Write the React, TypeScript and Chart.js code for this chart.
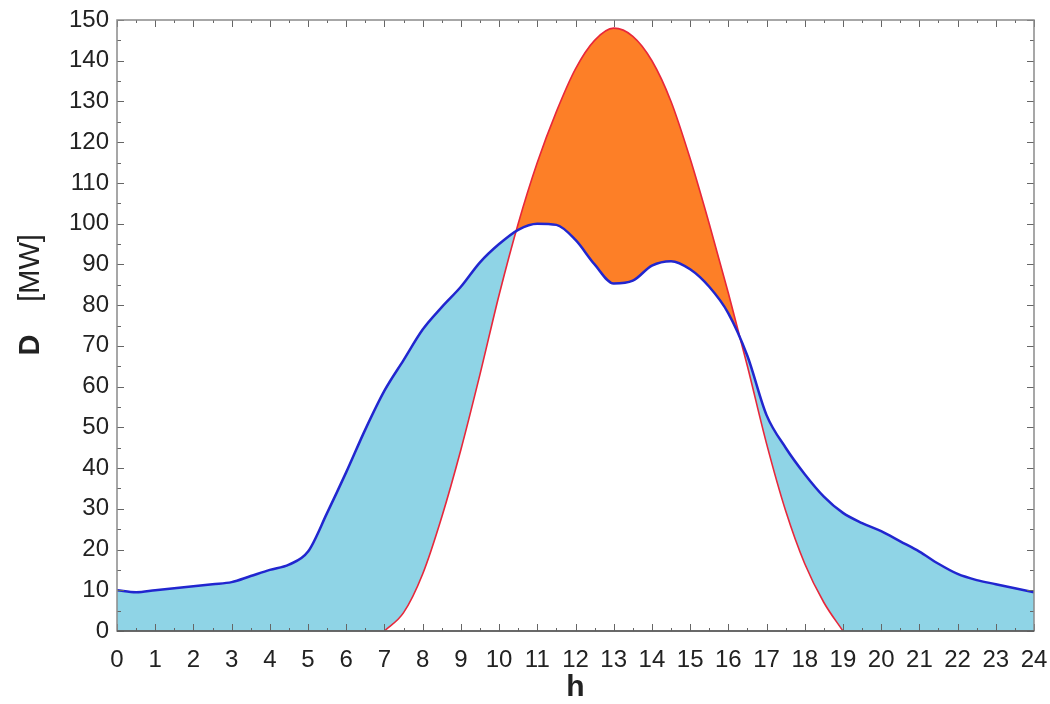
import React, { useEffect, useRef } from "react";
import { Chart, registerables } from "chart.js";

Chart.register(...registerables);

// Hour of day (h) for the demand curve
const demandHours = [
  0, 0.5, 1, 1.5, 2, 2.5, 3, 3.5, 4, 4.5, 5, 5.5, 6, 6.5, 7, 7.5, 8, 8.5, 9, 9.5,
  10, 10.5, 11, 11.5, 12, 12.5, 13, 13.5, 14, 14.5, 15, 15.5, 16, 16.5, 17, 17.5,
  18, 18.5, 19, 19.5, 20, 20.5, 21, 21.5, 22, 22.5, 23, 23.5, 24,
];
// Demand D [MW]
const demandValues = [
  10, 9.5, 10, 10.5, 11, 11.5, 12, 13.5, 15, 16.3, 19.5, 29, 39, 49.5, 59, 66.5,
  74, 79.5, 84.5, 90.5, 95, 98.5, 100, 99.7, 96, 90, 85.3, 86, 89.7, 90.8, 88.8,
  84.5, 78, 67.5, 53, 45, 38.5, 33, 29, 26.5, 24.5, 22, 19.5, 16.5, 14, 12.5,
  11.5, 10.5, 9.5,
];

// Hour of day (h) for the generation curve
const generationHours = [
  7, 7.5, 8, 8.5, 9, 9.5, 10, 10.5, 11, 11.5, 12, 12.5, 13, 13.5, 14, 14.5, 15,
  15.5, 16, 16.5, 17, 17.5, 18, 18.5, 19,
];
// Generation [MW]
const generationValues = [
  0, 4.5, 14, 28, 44.5, 63, 82.5, 100, 115, 127.5, 138, 145, 148, 146, 140, 130,
  116, 100, 83, 65, 46, 29.5, 16.5, 7, 0,
];

const xTickMin = 0;
const xTickMax = 24;
const yTickMin = 0;
const yTickMax = 150;

const FONT = "'Liberation Sans', Arial, sans-serif";

const toPoints = (xs: number[], ys: number[]) =>
  xs.map((x, i) => ({ x, y: ys[i] }));

// Frame around the plot area with inward ticks on all four sides
const frameTicks = {
  id: "frameTicks",
  afterDraw(chart: any) {
    const { ctx, chartArea, scales } = chart;
    const { left, right, top, bottom } = chartArea;
    const xs = scales.x;
    const ys = scales.y;
    ctx.save();
    ctx.strokeStyle = "#666";
    ctx.lineWidth = 1;
    ctx.beginPath();
    for (let h = xTickMin * 2; h <= xTickMax * 2; h++) {
      const v = h / 2;
      const px = Math.round(xs.getPixelForValue(v)) + 0.5;
      const len = h % 2 === 0 ? 7 : 3;
      ctx.moveTo(px, bottom);
      ctx.lineTo(px, bottom - len);
      ctx.moveTo(px, top);
      ctx.lineTo(px, top + len);
    }
    for (let k = yTickMin / 5; k <= yTickMax / 5; k++) {
      const v = k * 5;
      const py = Math.round(ys.getPixelForValue(v)) + 0.5;
      const len = k % 2 === 0 ? 7 : 4;
      ctx.moveTo(left, py);
      ctx.lineTo(left + len, py);
      ctx.moveTo(right, py);
      ctx.lineTo(right - len, py);
    }
    ctx.stroke();

    ctx.strokeStyle = "#8a8a8a";
    ctx.lineWidth = 1.5;
    ctx.strokeRect(left, top, right - left, bottom - top);
    ctx.strokeStyle = "#555";
    ctx.beginPath();
    ctx.moveTo(left, bottom);
    ctx.lineTo(right, bottom);
    ctx.stroke();

    // Y axis title: bold symbol, regular unit
    ctx.fillStyle = "#222";
    ctx.textAlign = "center";
    ctx.textBaseline = "middle";
    ctx.save();
    ctx.translate(31, 345);
    ctx.rotate(-Math.PI / 2);
    ctx.font = `bold 29px ${FONT}`;
    ctx.fillText("D", 0, 0);
    ctx.restore();
    ctx.save();
    ctx.translate(31, 268);
    ctx.rotate(-Math.PI / 2);
    ctx.font = `29px ${FONT}`;
    ctx.fillText("[MW]", 0, 0);
    ctx.restore();
    ctx.restore();
  },
};

export default function App() {
  const canvasRef = useRef<HTMLCanvasElement | null>(null);

  useEffect(() => {
    const canvas = canvasRef.current;
    if (!canvas) return;
    const demand = toPoints(demandHours, demandValues);
    const generation = toPoints(generationHours, generationValues);

    const chart = new Chart(canvas, {
      type: "line",
      data: {
        datasets: [
          {
            label: "Demand area",
            data: demand,
            borderWidth: 0,
            borderColor: "rgba(0,0,0,0)",
            backgroundColor: "#8fd4e6",
            fill: "origin",
            order: 4,
          },
          {
            label: "Generation area",
            data: generation,
            borderWidth: 0,
            borderColor: "rgba(0,0,0,0)",
            backgroundColor: "#ffffff",
            fill: "origin",
            order: 3,
          },
          {
            label: "Generation",
            data: generation,
            borderWidth: 1.6,
            borderColor: "#e8273a",
            backgroundColor: "#fd7f27",
            fill: { target: 0, above: "#fd7f27", below: "rgba(0,0,0,0)" },
            order: 2,
          },
          {
            label: "Demand",
            data: demand,
            borderWidth: 2.5,
            borderColor: "#2126cf",
            fill: false,
            order: 1,
          },
        ],
      },
      options: {
        responsive: false,
        animation: false,
        events: [],
        elements: {
          point: { radius: 0 },
          line: { cubicInterpolationMode: "monotone" },
        },
        layout: { padding: { left: 0, top: 20, right: 16, bottom: 0 } },
        plugins: {
          legend: { display: false },
          tooltip: { enabled: false },
          title: { display: false },
        },
        scales: {
          x: {
            type: "linear",
            min: xTickMin,
            max: xTickMax,
            grid: { display: false, drawTicks: false },
            border: { display: false },
            ticks: {
              stepSize: 1,
              autoSkip: false,
              maxRotation: 0,
              padding: 15,
              color: "#222",
              font: { family: FONT, size: 24 },
            },
            title: {
              display: true,
              text: "h",
              color: "#222",
              font: { family: FONT, size: 30, weight: "bold", lineHeight: 1 },
              padding: { top: 0, bottom: 1 },
            },
            afterFit(scale: any) {
              scale.height = 73;
              scale.paddingLeft = 0;
              scale.paddingRight = 0;
            },
          },
          y: {
            type: "linear",
            min: yTickMin,
            max: yTickMax,
            grid: { display: false, drawTicks: false },
            border: { display: false },
            ticks: {
              stepSize: 10,
              autoSkip: false,
              padding: 8,
              color: "#222",
              font: { family: FONT, size: 24 },
            },
            afterFit(scale: any) {
              scale.width = 117;
              scale.paddingTop = 0;
              scale.paddingBottom = 0;
            },
          },
        },
      },
      plugins: [frameTicks],
    });
    return () => chart.destroy();
  }, []);

  return (
    <div style={{ position: "fixed", left: 0, top: 0, width: 1050, height: 704, background: "#fff" }}>
      <canvas ref={canvasRef} width={1050} height={704} style={{ width: 1050, height: 704 }} />
    </div>
  );
}
